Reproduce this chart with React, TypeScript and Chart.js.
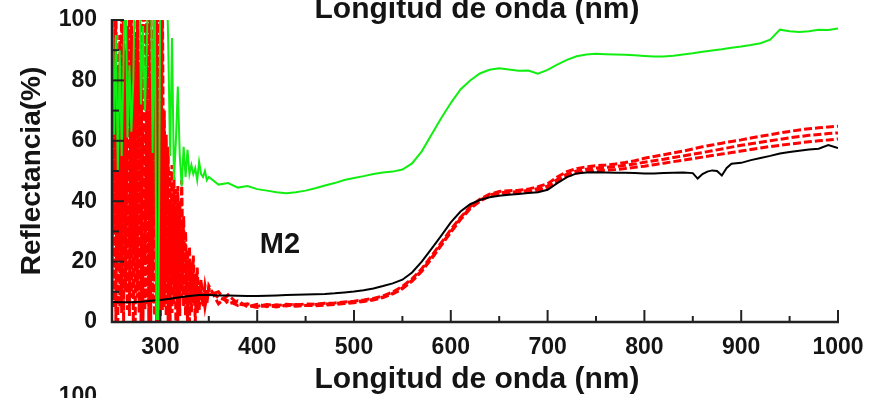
import React, { useEffect, useRef } from 'react';
import { Chart, registerables } from 'chart.js';
Chart.register(...registerables);

// ---------- data ----------
const wlUV = [250, 252, 254, 256, 258, 260, 262, 264, 266, 268, 270, 272, 274, 276, 278, 280, 282, 284, 286, 288, 290, 292, 294, 296, 298, 300, 302, 304, 306, 308, 310, 312, 314, 316, 318, 320, 322, 324, 326, 328, 330, 332, 334, 336, 338, 340, 342, 344, 346, 348];
const wlVis = [350, 360, 370, 380, 390, 400, 410, 420, 430, 440, 450, 460, 470, 480, 490, 500, 510, 520, 530, 540, 550, 560, 570, 580, 590, 600, 610, 620, 630, 640, 650, 660, 670, 680, 690, 700, 710, 720, 730, 740, 750, 760, 770, 780, 790, 800, 810, 820, 830, 840, 850, 860, 870, 880, 890, 900, 910, 920, 930, 940, 950, 960, 970, 980, 990, 1000];
const wlBlack = [250, 260, 270, 280, 290, 300, 310, 320, 330, 340, 350, 360, 370, 380, 390, 400, 410, 420, 430, 440, 450, 460, 470, 480, 490, 500, 510, 520, 530, 540, 550, 560, 570, 580, 590, 600, 610, 620, 630, 640, 650, 660, 670, 680, 690, 700, 710, 720, 730, 740, 750, 760, 770, 780, 790, 800, 810, 820, 830, 840, 850, 855, 860, 865, 870, 875, 880, 885, 890, 900, 910, 920, 930, 940, 950, 960, 970, 980, 990, 1000];

const greenUV = [120, 62, 95, 50, 90, 55, 88, 120, 61, 85, 63, 80, 120, 120, 120, 72, 98, 70, 92, 120, 120, 56, 120, 1, 1, 120, 120, 120, 120, 94, 55, 94, 47, 60, 78, 55, 45, 58, 48, 57, 49, 52, 49, 51, 47, 53, 49, 48, 50, 47];
const greenVis = [48, 45.5, 46, 44.5, 45, 44, 43.5, 43, 42.6, 43, 43.5, 44.3, 45.2, 46, 47, 47.7, 48.3, 49, 49.5, 49.8, 50.5, 52.5, 56.5, 62, 67.5, 72.5, 77, 80, 82.3, 83.5, 84, 83.6, 83.2, 83.3, 82.2, 83.5, 85.2, 86.8, 88, 88.6, 88.8, 88.7, 88.6, 88.5, 88.3, 88.1, 87.9, 87.9, 88.2, 88.6, 89, 89.5, 89.9, 90.3, 90.8, 91.2, 91.7, 92.3, 93.5, 96.8, 96.3, 96, 96.3, 96.8, 96.7, 97.2];

const redA_UV = [90, 5, 110, 0, 95, 3, 110, 10, 98, 2, 110, 0, 96, 8, 110, 0, 110, 4, 99, 0, 110, 6, 110, 0, 110, 2, 110, 5, 62, 0, 50, 3, 48, 0, 45, 2, 47, 5, 30, 0, 25, 3, 22, 0, 18, 4, 14, 6, 12, 8];
const redB_UV = [10, 110, 0, 85, 5, 110, 0, 90, 4, 110, 8, 95, 0, 110, 3, 92, 0, 110, 6, 110, 0, 97, 2, 110, 0, 110, 4, 70, 2, 58, 0, 52, 6, 44, 0, 40, 8, 35, 2, 24, 0, 20, 6, 16, 3, 12, 7, 10, 5, 9];
const redC_UV = [50, 30, 70, 20, 60, 15, 80, 40, 55, 25, 75, 35, 60, 12, 85, 30, 65, 20, 70, 35, 80, 15, 65, 40, 75, 10, 55, 25, 45, 15, 40, 20, 35, 10, 30, 18, 28, 12, 22, 8, 18, 10, 15, 6, 12, 8, 10, 5, 9, 6];

const redA_Vis = [11, 8, 7, 5.5, 6, 5.2, 5.8, 5.4, 5.9, 5.6, 6.0, 5.9, 6.2, 6.3, 6.6, 6.9, 7.3, 7.8, 8.6, 9.9, 11.8, 14.3, 17.6, 21.8, 26.2, 30.6, 34.6, 38.2, 40.6, 42.3, 43.2, 43.5, 43.6, 44.0, 44.8, 45.8, 48.0, 49.8, 50.8, 51.4, 51.8, 52.0, 52.3, 52.8, 53.4, 54.2, 54.8, 55.4, 56.0, 56.6, 57.3, 58.0, 58.6, 59.2, 59.8, 60.3, 60.9, 61.5, 62.0, 62.6, 63.1, 63.6, 64.0, 64.3, 64.6, 64.8];
const redB_Vis = [9, 10, 6, 7, 5, 5.9, 5.1, 5.7, 5.3, 5.8, 5.5, 5.8, 5.9, 6.1, 6.4, 6.7, 7.0, 7.5, 8.3, 9.5, 11.3, 13.8, 17.0, 21.2, 25.6, 30.0, 34.2, 37.8, 40.3, 42.0, 42.8, 43.0, 43.2, 43.6, 44.2, 45.0, 47.2, 49.0, 50.0, 50.6, 51.0, 51.2, 51.5, 51.9, 52.3, 52.9, 53.4, 53.9, 54.5, 55.0, 55.6, 56.1, 56.7, 57.3, 57.9, 58.5, 59.0, 59.5, 60.0, 60.5, 61.0, 61.4, 61.8, 62.1, 62.4, 62.6];
const redC_Vis = [12, 6, 9, 6, 5.5, 4.8, 5.5, 5.0, 5.6, 5.2, 5.5, 5.4, 5.6, 5.8, 6.1, 6.4, 6.8, 7.3, 8.1, 9.3, 11.0, 13.5, 16.8, 20.9, 25.3, 29.7, 33.9, 37.5, 40.0, 41.7, 42.4, 42.6, 42.8, 43.1, 43.6, 44.3, 46.5, 48.3, 49.3, 49.8, 50.1, 50.3, 50.5, 50.8, 51.2, 51.6, 52.1, 52.6, 53.1, 53.6, 54.1, 54.6, 55.1, 55.6, 56.1, 56.6, 57.1, 57.6, 58.1, 58.5, 58.9, 59.3, 59.7, 60.0, 60.3, 60.6];

const blackVals = [6.6, 6.5, 6.5, 6.7, 7.0, 7.3, 7.7, 8.2, 8.6, 8.9, 8.9, 8.8, 8.8, 8.7, 8.6, 8.6, 8.7, 8.8, 8.9, 9.0, 9.1, 9.2, 9.3, 9.5, 9.8, 10.1, 10.5, 11.1, 11.9, 12.8, 14.0, 16.4, 20.0, 24.2, 28.5, 33.0, 36.6, 39.0, 40.4, 41.3, 41.8, 42.1, 42.4, 42.7, 43.0, 43.8, 46.0, 48.0, 49.2, 49.5, 49.6, 49.5, 49.4, 49.4, 49.3, 49.2, 49.2, 49.3, 49.4, 49.5, 49.3, 47.5, 49.0, 49.8, 50.2, 50.0, 48.5, 51.0, 52.4, 52.7, 53.6, 54.3, 55.0, 55.8, 56.3, 56.7, 57.1, 57.4, 58.6, 57.6];

const xMajorTicks = [300, 400, 500, 600, 700, 800, 900, 1000];
const xMinorTicks = [350, 450, 550, 650, 750, 850, 950];
const yMajorTicks = [0, 20, 40, 60, 80, 100];
const yMinorTicks = [10, 30, 50, 70, 90];

const xTitle = 'Longitud de onda (nm)';
const yTitle = 'Reflectancia(%)';
const sampleLabel = 'M2';
const nextPanelTick = '100';

const FONT = '"Liberation Sans", Arial, Helvetica, sans-serif';

const pairs = (xs: number[], ys: number[]) => xs.map((x, i) => ({ x, y: ys[i] }));

const decorPlugin = {
  id: 'decor',
  afterDraw(chart: any) {
    const { ctx, chartArea } = chart;
    const xs = chart.scales.x;
    const ys = chart.scales.y;
    const { left, right, top, bottom } = chartArea;
    ctx.save();
    ctx.strokeStyle = '#222';
    ctx.lineCap = 'butt';
    // axis lines
    ctx.lineWidth = 2.5;
    ctx.beginPath();
    ctx.moveTo(left, top - 1);
    ctx.lineTo(left, bottom);
    ctx.lineTo(right + 1, bottom);
    ctx.stroke();
    // inward ticks
    ctx.lineWidth = 2;
    const seg = (x1: number, y1: number, x2: number, y2: number) => {
      ctx.beginPath();
      ctx.moveTo(x1, y1);
      ctx.lineTo(x2, y2);
      ctx.stroke();
    };
    xMajorTicks.forEach((v) => { const p = xs.getPixelForValue(v); seg(p, bottom, p, bottom - 12); });
    xMinorTicks.forEach((v) => { const p = xs.getPixelForValue(v); seg(p, bottom, p, bottom - 6); });
    yMajorTicks.forEach((v) => { const p = ys.getPixelForValue(v); seg(left, p, left + 12, p); });
    yMinorTicks.forEach((v) => { const p = ys.getPixelForValue(v); seg(left, p, left + 7, p); });

    // texts
    ctx.fillStyle = '#141414';
    ctx.textAlign = 'center';
    ctx.textBaseline = 'alphabetic';
    ctx.font = `bold 30px ${FONT}`;
    const cx = (left + right) / 2 + 2;
    ctx.fillText(xTitle, cx, 18);
    ctx.fillText(xTitle, cx, 388);

    ctx.font = `bold 29px ${FONT}`;
    ctx.textBaseline = 'middle';
    ctx.fillText(sampleLabel, 280, 245);

    ctx.save();
    ctx.translate(32, (top + bottom) / 2);
    ctx.rotate(-Math.PI / 2);
    ctx.font = `bold 28px ${FONT}`;
    ctx.textBaseline = 'middle';
    ctx.fillText(yTitle, 0, 0);
    ctx.restore();

    ctx.font = `bold 23px ${FONT}`;
    ctx.textAlign = 'right';
    ctx.textBaseline = 'middle';
    ctx.fillText(nextPanelTick, 97, 397);
    ctx.restore();
  },
};

const zeroPad = (s: any) => {
  s.paddingLeft = 0;
  s.paddingRight = 0;
  s.paddingTop = 0;
  s.paddingBottom = 0;
};

export default function App() {
  const ref = useRef<HTMLCanvasElement | null>(null);
  useEffect(() => {
    if (!ref.current) return;
    const red = '#ff0000';
    const redDash = [8, 3];
    const chart = new Chart(ref.current, {
      type: 'line',
      data: {
        datasets: [
          { label: 'verde', data: pairs(wlUV, greenUV).concat(pairs(wlVis, greenVis)), borderColor: '#11ee11', borderWidth: 2, pointRadius: 0, order: 0 },
          { label: 'negro', data: pairs(wlBlack, blackVals), borderColor: '#000000', borderWidth: 2, pointRadius: 0, order: 1 },
          { label: 'rojo A', data: pairs(wlUV, redA_UV).concat(pairs(wlVis, redA_Vis)), borderColor: red, borderWidth: 3, borderDash: redDash, pointRadius: 0, order: 2 },
          { label: 'rojo B', data: pairs(wlUV, redB_UV).concat(pairs(wlVis, redB_Vis)), borderColor: red, borderWidth: 3, borderDash: redDash, pointRadius: 0, order: 3 },
          { label: 'rojo C', data: pairs(wlUV, redC_UV).concat(pairs(wlVis, redC_Vis)), borderColor: red, borderWidth: 3, borderDash: redDash, pointRadius: 0, order: 4 },
        ],
      },
      options: {
        animation: false,
        responsive: false,
        devicePixelRatio: 1,
        layout: { padding: { left: 0, right: 33, top: 20, bottom: 0 } },
        plugins: { legend: { display: false }, tooltip: { enabled: false }, title: { display: false } },
        scales: {
          x: {
            type: 'linear',
            min: 250,
            max: 1000,
            grid: { display: false, drawTicks: false },
            border: { display: false },
            afterBuildTicks: (s: any) => { s.ticks = xMajorTicks.map((v) => ({ value: v })); },
            afterFit: (s: any) => { s.height = 76; zeroPad(s); },
            ticks: {
              font: { family: FONT, size: 23, weight: 'bold' },
              color: '#141414',
              padding: 12,
              maxRotation: 0,
              autoSkip: false,
              callback: (v: any) => String(v),
            },
          },
          y: {
            type: 'linear',
            min: 0,
            max: 100,
            grid: { display: false, drawTicks: false },
            border: { display: false },
            afterBuildTicks: (s: any) => { s.ticks = yMajorTicks.map((v) => ({ value: v })); },
            afterFit: (s: any) => { s.width = 112; zeroPad(s); },
            ticks: {
              font: { family: FONT, size: 23, weight: 'bold' },
              color: '#141414',
              padding: 15,
              callback: (v: any) => String(v),
            },
          },
        },
      },
      plugins: [decorPlugin],
    } as any);
    return () => chart.destroy();
  }, []);
  return (
    <div style={{ position: 'fixed', left: 0, top: 0, width: 871, height: 398, background: '#fff' }}>
      <canvas ref={ref} width={871} height={398} style={{ display: 'block', width: 871, height: 398 }} />
    </div>
  );
}
